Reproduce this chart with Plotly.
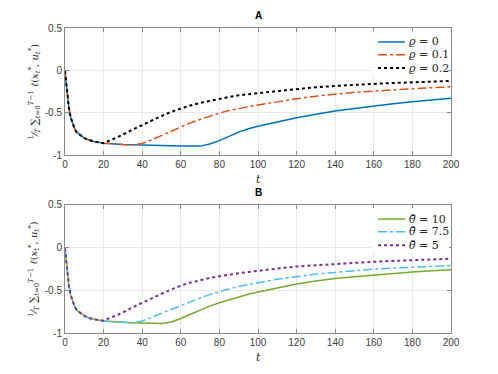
import plotly.graph_objects as go

# time grid used for all curves
t = [0, 1, 2, 3, 4, 5, 6, 8, 10, 12, 15, 20, 25, 30, 35, 40, 45, 50, 55, 60, 65, 70,
     75, 80, 85, 90, 95, 100, 110, 120, 130, 140, 150, 160, 170, 180, 190, 200]

# panel A: rho sweep
rho_0 = [-0.01, -0.25, -0.44, -0.56, -0.64, -0.69, -0.73, -0.77, -0.80, -0.82, -0.84, -0.86,
         -0.87, -0.875, -0.88, -0.885, -0.888, -0.89, -0.892, -0.895, -0.897, -0.895,
         -0.87, -0.83, -0.78, -0.73, -0.69, -0.66, -0.61, -0.56, -0.52, -0.48, -0.45,
         -0.42, -0.395, -0.37, -0.35, -0.33]
rho_01 = [-0.01, -0.25, -0.44, -0.56, -0.64, -0.69, -0.73, -0.77, -0.80, -0.82, -0.84, -0.86,
          -0.87, -0.875, -0.88, -0.865, -0.82, -0.77, -0.715, -0.665, -0.62, -0.58,
          -0.54, -0.505, -0.475, -0.45, -0.43, -0.41, -0.37, -0.335, -0.305, -0.28, -0.26,
          -0.245, -0.23, -0.22, -0.205, -0.195]
rho_02 = [-0.01, -0.25, -0.44, -0.56, -0.64, -0.69, -0.73, -0.77, -0.80, -0.82, -0.84, -0.86,
          -0.81, -0.76, -0.70, -0.645, -0.59, -0.54, -0.49, -0.45, -0.415, -0.385,
          -0.36, -0.335, -0.315, -0.295, -0.28, -0.27, -0.245, -0.22, -0.20, -0.185, -0.17,
          -0.16, -0.15, -0.14, -0.13, -0.125]

# panel B: theta-bar sweep
th_10 = [-0.01, -0.25, -0.44, -0.56, -0.64, -0.69, -0.73, -0.77, -0.80, -0.82, -0.84, -0.86,
         -0.87, -0.875, -0.88, -0.885, -0.89, -0.89, -0.87, -0.83, -0.78, -0.73,
         -0.685, -0.645, -0.61, -0.575, -0.545, -0.52, -0.47, -0.425, -0.39, -0.36, -0.34,
         -0.32, -0.30, -0.285, -0.27, -0.26]
th_75 = [-0.01, -0.25, -0.44, -0.56, -0.64, -0.69, -0.73, -0.77, -0.80, -0.82, -0.84, -0.86,
         -0.87, -0.875, -0.88, -0.86, -0.815, -0.77, -0.72, -0.675, -0.63, -0.59,
         -0.55, -0.515, -0.485, -0.455, -0.43, -0.41, -0.37, -0.34, -0.31, -0.29, -0.27,
         -0.25, -0.24, -0.23, -0.22, -0.21]
th_5 = [-0.01, -0.25, -0.44, -0.56, -0.64, -0.69, -0.73, -0.77, -0.80, -0.82, -0.84, -0.855,
        -0.81, -0.76, -0.70, -0.645, -0.59, -0.54, -0.49, -0.445, -0.41, -0.38,
        -0.355, -0.335, -0.315, -0.30, -0.285, -0.27, -0.245, -0.22, -0.205, -0.19, -0.175,
        -0.165, -0.155, -0.145, -0.14, -0.13]

x_ticks = [0, 20, 40, 60, 80, 100, 120, 140, 160, 180, 200]
y_ticks = [-1, -0.5, 0, 0.5]
y_ticktext = ["-1", "-0.5", "0", "0.5"]

SERIF = "DejaVu Serif"
SANS = "Liberation Sans, Arial, sans-serif"

# (axis suffix, values, legend label, colour, dash, width)
series = [
    ("", rho_0, "<i>ϱ</i> = 0", "#0072BD", "solid", 1.5),
    ("", rho_01, "<i>ϱ</i> = 0.1", "#D95319", "dashdot", 1.5),
    ("", rho_02, "<i>ϱ</i> = 0.2", "#000000", "dot", 2),
    ("2", th_10, "<i>θ̄</i> = 10", "#77AC30", "solid", 1.5),
    ("2", th_75, "<i>θ̄</i> = 7.5", "#4DBEEE", "dashdot", 1.5),
    ("2", th_5, "<i>θ̄</i> = 5", "#7E2F8E", "dot", 2),
]

fig = go.Figure()
for ax, vals, name, color, dash, w in series:
    fig.add_trace(go.Scatter(x=t, y=vals, mode="lines", name=name, showlegend=False,
                             line=dict(color=color, width=w, dash=dash),
                             xaxis="x" + ax, yaxis="y" + ax))

axis = dict(
    showline=True, mirror="allticks", linecolor="#8a8a8a", linewidth=1,
    ticks="inside", ticklen=4, tickcolor="#8a8a8a",
    showgrid=True, gridcolor="#e8e8e8", zeroline=False,
    tickfont=dict(family=SANS, size=10, color="#404040"),
)
top_dom = [0.5836, 1.0]
bot_dom = [0.0, 0.4197]

ylabel = ("<sup>1</sup>⁄<sub><i>T</i></sub> ∑<sub><i>t</i>=0</sub><sup><i>T</i>−1</sup> "
          "<i>ℓ</i>(<i>x</i><sub><i>t</i></sub><sup>*</sup>, <i>u</i><sub><i>t</i></sub><sup>*</sup>)")

ann = []
shapes = []
for ax, dom, title in [("", top_dom, "A"), ("2", bot_dom, "B")]:
    ann.append(dict(text="<b>" + title + "</b>", xref="paper", yref="paper", x=0.5,
                    y=dom[1], yshift=5, xanchor="center", yanchor="bottom", showarrow=False,
                    font=dict(family=SANS, size=10, color="#000000")))
    ann.append(dict(text="<i>t</i>", xref="paper", yref="paper", x=0.5, y=dom[0],
                    yshift=-16, xanchor="center", yanchor="top", showarrow=False,
                    font=dict(family=SERIF, size=11, color="#262626")))
    ann.append(dict(text=ylabel, xref="paper", yref="paper", x=0, xshift=-31,
                    y=(dom[0] + dom[1]) / 2, xanchor="center", yanchor="middle",
                    textangle=-90, showarrow=False,
                    font=dict(family=SERIF, size=10, color="#262626")))
    # legend box (white, no border) in the upper right of each panel
    shapes.append(dict(type="rect", xref="x" + ax + " domain", yref="y" + ax + " domain",
                       x0=0.795, x1=0.995, y0=0.63, y1=0.975, fillcolor="white",
                       line=dict(width=0), layer="above"))

# hand-built legends so the row spacing matches the reference
rows = [0.89, 0.79, 0.685]
for i, (ax, vals, name, color, dash, w) in enumerate(series):
    yy = rows[i % 3]
    shapes.append(dict(type="line", xref="x" + ax + " domain", yref="y" + ax + " domain",
                       x0=0.811, x1=0.881, y0=yy, y1=yy, layer="above",
                       line=dict(color=color, width=w, dash=dash)))
    ann.append(dict(text=name, xref="x" + ax + " domain", yref="y" + ax + " domain",
                    x=0.886, y=yy, xanchor="left", yanchor="middle", showarrow=False,
                    font=dict(family=SERIF, size=11, color="#262626")))

fig.update_layout(
    width=498, height=374,
    margin=dict(l=57, r=55, t=20, b=49),
    paper_bgcolor="white", plot_bgcolor="white",
    showlegend=False,
    xaxis=dict(axis, domain=[0, 1], anchor="y", range=[0, 200], tickvals=x_ticks),
    yaxis=dict(axis, domain=top_dom, anchor="x", range=[-1, 0.5], tickvals=y_ticks,
               ticktext=y_ticktext),
    xaxis2=dict(axis, domain=[0, 1], anchor="y2", range=[0, 200], tickvals=x_ticks),
    yaxis2=dict(axis, domain=bot_dom, anchor="x2", range=[-1, 0.5], tickvals=y_ticks,
                ticktext=y_ticktext),
    annotations=ann,
    shapes=shapes,
)

fig.write_html("out.html")
